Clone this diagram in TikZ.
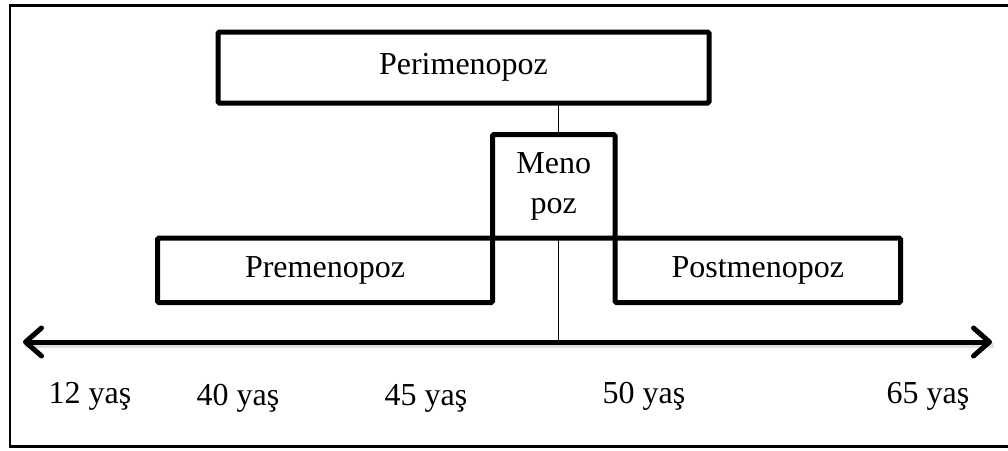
\documentclass[tikz,border=0pt]{standalone}
\usepackage{fontspec}
\setmainfont{Liberation Serif}
\usetikzlibrary{arrows.meta}
\begin{document}
\begin{tikzpicture}[x=1pt,y=-1pt,
  phase/.style={draw, line width=5pt, rounded corners=1.5pt, inner sep=0pt, outer sep=0pt,
     font=\fontsize{32}{40}\selectfont},
  agelabel/.style={anchor=base, inner sep=0pt, font=\fontsize{32}{40}\selectfont},
  thin line/.style={line width=1.5pt}]
\useasboundingbox (0,0) rectangle (1008,450);
% frame
\draw[line width=2.6pt] (9.8,5.7) rectangle (1014,446.5);
% boxes
\node[phase, minimum width=491pt, minimum height=71pt] (peri) at (463.5,67.5) {Perimenopoz};
\node[phase, minimum width=335pt, minimum height=64.5pt] (pre) at (325,270.25) {Premenopoz};
\node[phase, minimum width=285.5pt, minimum height=64.5pt] (post) at (757.75,270.25) {Postmenopoz};
\node[phase, minimum width=122.5pt, minimum height=103.5pt, align=center] (meno) at (553.75,186.25) {Meno\\[0pt]poz};
% axis
\coordinate (L) at (23,342);
\coordinate (R) at (992,342);
\coordinate (tick) at (558.5,342);
\draw[line width=5pt, gray, opacity=0.25] ([shift={(2,3)}]L) -- ([shift={(2,3)}]R);
\draw[line width=5pt, line cap=round, {Straight Barb[length=16pt,width=28pt,line cap=round,line join=round]}-{Straight Barb[length=16pt,width=28pt,line cap=round,line join=round]}] (L) -- (R);
% connectors
\draw[thin line] (tick |- peri.south) -- (tick |- meno.north);
\draw[thin line] (tick |- meno.south) -- (tick);
% labels
\node[agelabel] (a12) at (90,403) {12 yaş};
\node[agelabel] (a40) at (238,405) {40 yaş};
\node[agelabel] (a45) at (426,405) {45 yaş};
\node[agelabel] (a50) at (644,403) {50 yaş};
\node[agelabel] (a65) at (928,403) {65 yaş};
\end{tikzpicture}
\end{document}
